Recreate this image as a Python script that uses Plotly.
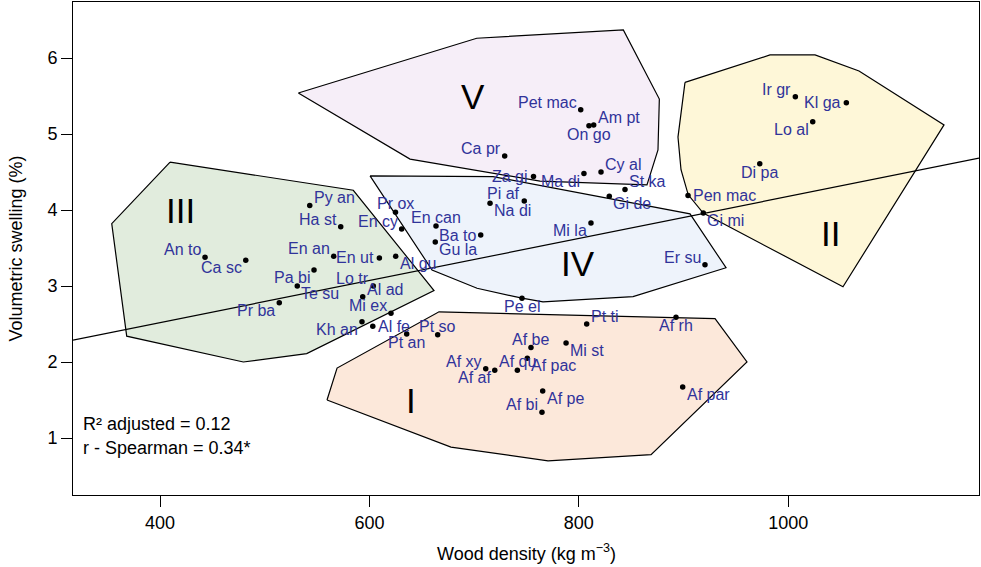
import plotly.graph_objects as go

# ---------------- data ----------------
species = [
    # group III
    "An to", "Ca sc", "Py an", "Ha st", "En an", "En ut", "Al gu", "Pa bi", "Te su",
    "Pr ba", "Lo tr", "Al ad", "Mi ex", "Kh an", "Al fe", "Pr ox", "En cy",
    # group IV
    "En can", "Ba to", "Gu la", "Pi af", "Na di", "Mi la", "Gi de", "Pe el", "Er su",
    # group V
    "Pet mac", "Am pt", "On go", "Ca pr", "Za gi", "Ma di", "Cy al", "St ka",
    # group II
    "Ir gr", "Kl ga", "Lo al", "Di pa", "Pen mac", "Gi mi",
    # group I
    "Pt so", "Pt an", "Pt ti", "Af rh", "Af be", "Mi st", "Af xy", "Af af", "Af qu",
    "Af pac", "Af pe", "Af bi", "Af par",
]
density = [
    443.0, 481.9, 543.0, 572.6, 565.9, 609.5, 625.1, 547.1, 531.1,
    513.9, 603.7, 593.6, 620.6, 592.9, 603.2, 624.9, 630.8,
    663.6, 706.3, 662.9, 747.9, 715.2, 811.6, 829.1, 745.7, 920.5,
    801.8, 814.2, 809.7, 729.2, 756.7, 804.9, 821.2, 844.1,
    1006.8, 1055.5, 1023.4, 972.8, 904.3, 918.9,
    665.2, 635.6, 807.5, 892.8, 754.3, 787.8, 711.1, 719.7, 741.3,
    750.8, 765.5, 764.8, 899.2,
]
swelling = [
    3.38, 3.34, 4.06, 3.78, 3.39, 3.37, 3.39, 3.21, 3.00,
    2.78, 3.00, 2.86, 2.64, 2.53, 2.47, 3.97, 3.75,
    3.79, 3.67, 3.58, 4.12, 4.09, 3.83, 4.18, 2.84, 3.28,
    5.32, 5.12, 5.11, 4.71, 4.44, 4.48, 4.50, 4.27,
    5.49, 5.41, 5.16, 4.61, 4.19, 3.96,
    2.36, 2.37, 2.50, 2.59, 2.19, 2.25, 1.91, 1.89, 1.89,
    2.05, 1.62, 1.34, 1.67,
]
# label placement relative to its point (tl = top-left, br = bottom-right, ...)
label_pos = [
    "tl", "bl", "tr", "tl", "tl", "l", "br", "bl", "br",
    "bl", "tl", "tr", "tl", "bl", "r", "t", "tl",
    "t", "l", "br", "tl", "br", "bl", "br", "b", "tl",
    "tl", "tr", "b", "tl", "l", "bl", "tr", "tr",
    "tl", "l", "bl", "b", "r", "br",
    "t", "b", "tr", "b", "t", "br", "tl", "bl", "t",
    "br", "br", "tl", "br",
]

# group envelopes (data coordinates)
group_names = ["I", "II", "III", "IV", "V"]
hull_x = {
    "I": [559.5, 569.1, 666.5, 930.1, 960.6, 869.0, 770.6, 677.9],
    "II": [901.4, 982.6, 1025.6, 1067.6, 1148.8, 1052.3, 918.8, 904.5, 897.6, 894.7],
    "III": [409.6, 584.6, 661.7, 540.1, 479.6, 368.2, 353.9],
    "IV": [600.6, 718.1, 906.2, 940.6, 851.8, 765.8, 745.7, 702.8, 659.8],
    "V": [532.1, 702.5, 842.5, 876.9, 875.6, 865.1, 762.9, 638.8],
}
hull_y = {
    "I": [1.50, 1.92, 2.66, 2.57, 2.00, 0.78, 0.70, 0.88],
    "II": [5.68, 6.04, 6.04, 5.83, 5.12, 2.99, 3.96, 4.20, 4.53, 4.96],
    "III": [4.63, 4.26, 2.94, 2.11, 2.00, 2.34, 3.82],
    "IV": [4.45, 4.44, 3.95, 3.24, 2.86, 2.79, 2.84, 2.97, 3.21],
    "V": [5.54, 6.26, 6.37, 5.46, 4.79, 4.33, 4.38, 4.67],
}
hull_color = {
    "I": "#fce8da",
    "II": "#fef7d8",
    "III": "#e1ecdd",
    "IV": "#eef3fb",
    "V": "#f6eef8",
}
group_label_x = [639.5, 1039.9, 419.1, 799.5, 699.2]
group_label_y = [1.50, 3.69, 4.00, 3.30, 5.49]

# linear fit
fit_intercept = 1.411
fit_slope = 0.002768

x_range = [316.9, 1182.2]
y_range = [0.25, 6.737]

FONT = "Liberation Sans, Arial, sans-serif"
LABEL_COLOR = "#30339a"

fig = go.Figure()

for g in ["III", "IV", "V", "II", "I"]:
    xs = hull_x[g] + [hull_x[g][0]]
    ys = hull_y[g] + [hull_y[g][0]]
    fig.add_trace(go.Scatter(
        x=xs, y=ys, mode="lines", fill="toself", fillcolor=hull_color[g],
        line=dict(color="black", width=1.2), hoverinfo="skip", showlegend=False))

fig.add_trace(go.Scatter(
    x=x_range, y=[fit_intercept + fit_slope * v for v in x_range],
    mode="lines", line=dict(color="black", width=1.2), hoverinfo="skip", showlegend=False))

fig.add_trace(go.Scatter(
    x=density, y=swelling, mode="markers", text=species,
    marker=dict(color="black", size=5.5), showlegend=False))

anchor = {
    "tl": ("right", "bottom", -3, -2),
    "tr": ("left", "bottom", 3, -2),
    "bl": ("right", "top", -3, 2),
    "br": ("left", "top", 3, 2),
    "l": ("right", "middle", -4, 0),
    "r": ("left", "middle", 4, 0),
    "t": ("center", "bottom", 0, -1),
    "b": ("center", "top", 0, 1),
}

annotations = []
for name, xv, yv, p in zip(species, density, swelling, label_pos):
    xa, ya, xs, ys = anchor[p]
    annotations.append(dict(
        x=xv, y=yv, xref="x", yref="y", text=name, showarrow=False,
        xanchor=xa, yanchor=ya, xshift=xs, yshift=ys, borderpad=0,
        font=dict(family=FONT, size=16, color=LABEL_COLOR)))

for name, xv, yv in zip(group_names, group_label_x, group_label_y):
    annotations.append(dict(
        x=xv, y=yv, xref="x", yref="y", text=name, showarrow=False,
        xanchor="center", yanchor="middle",
        font=dict(family=FONT, size=35, color="black")))

annotations.append(dict(
    x=0.009, y=0.144, xref="paper", yref="paper", text="R² adjusted = 0.12",
    showarrow=False, xanchor="left", yanchor="middle",
    font=dict(family=FONT, size=18, color="black")))
annotations.append(dict(
    x=0.009, y=0.095, xref="paper", yref="paper", text="r - Spearman = 0.34*",
    showarrow=False, xanchor="left", yanchor="middle",
    font=dict(family=FONT, size=18, color="black")))

annotations.append(dict(
    x=0.5, y=-0.116, xref="paper", yref="paper", text="Wood density (kg m<sup>−3</sup>)",
    showarrow=False, xanchor="center", yanchor="middle",
    font=dict(family=FONT, size=18, color="black")))
annotations.append(dict(
    x=-0.064, y=0.5, xref="paper", yref="paper", text="Volumetric swelling (%)",
    showarrow=False, xanchor="center", yanchor="middle", textangle=-90,
    font=dict(family=FONT, size=18, color="black")))

axis_common = dict(
    showgrid=False, zeroline=False, showline=True, mirror=True,
    linecolor="black", linewidth=1, ticks="outside", ticklen=11,
    tickwidth=1, tickcolor="black", automargin=False,
    tickfont=dict(family=FONT, size=18, color="black"))

fig.update_layout(
    width=981, height=567,
    margin=dict(l=73, r=2, t=2, b=72),
    paper_bgcolor="white", plot_bgcolor="white",
    xaxis=dict(range=x_range, tickvals=[400, 600, 800, 1000], **axis_common),
    yaxis=dict(range=y_range, tickvals=[1, 2, 3, 4, 5, 6], **axis_common),
    annotations=annotations,
    showlegend=False,
)

fig.write_html(
    "out.html",
    config={"displayModeBar": False},
    post_script="document.body.style.margin='0px';document.body.style.overflow='hidden';",
)
